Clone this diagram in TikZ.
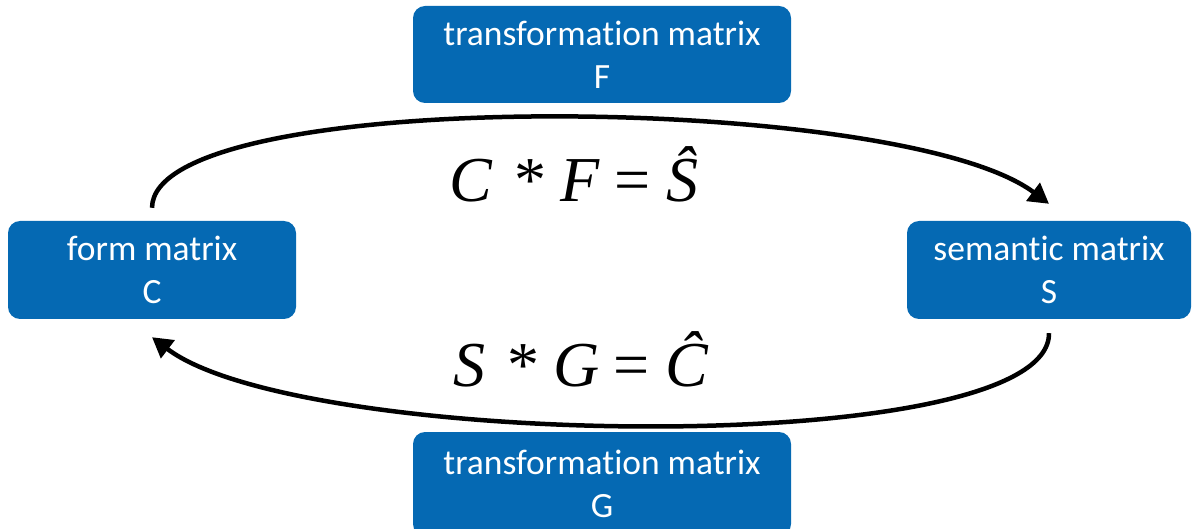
\documentclass[tikz,border=0pt]{standalone}
\usepackage{fontspec}
\setmainfont{Carlito}[Ligatures=NoCommon]
\newfontfamily\eqfont{Liberation Serif}
\usetikzlibrary{arrows.meta}
\definecolor{boxblue}{HTML}{0569B3}
\tikzset{
  mbox/.style={fill=boxblue, rounded corners=12pt, text=white, align=center,
    font=\fontsize{35.5}{43}\selectfont, inner sep=0pt},
  arc/.style={line width=4.5pt, -{Triangle[length=20pt,width=22pt]}},
  eq/.style={font=\eqfont\fontsize{64}{66}\selectfont, inner sep=0pt, anchor=base}
}
\begin{document}
\begin{tikzpicture}[x=1pt,y=-1pt]
\useasboundingbox (0,0) rectangle (1192,529);
\node[mbox, minimum width=378pt, minimum height=97pt] (F) at (602,54.5) {transformation matrix\\F};
\node[mbox, minimum width=288pt, minimum height=98pt] (C) at (152,270) {form matrix\\C};
\node[mbox, minimum width=284pt, minimum height=98pt] (S) at (1049,270) {semantic matrix\\S};
\node[mbox, minimum width=378pt, minimum height=104pt] (G) at (602,484) {transformation matrix\\G};
\node[eq] (eq1) at (574,202) {\textit{C}\hspace{22pt}*\hspace{14pt}\textit{F}\hspace{14pt}=\hspace{16pt}\textit{Ŝ}};
\node[eq] (eq2) at (581,387) {\textit{S}\hspace{22pt}*\hspace{14pt}\textit{G}\hspace{14pt}=\hspace{16pt}\textit{Ĉ}};
\draw[arc] ([yshift=13pt]C.north) .. controls (153,85) and (900,92) .. ([yshift=17pt]S.north);
\draw[arc] ([yshift=-14pt]S.south) .. controls (1050,460) and (300,450) .. ([yshift=-18pt]C.south);
\end{tikzpicture}
\end{document}
